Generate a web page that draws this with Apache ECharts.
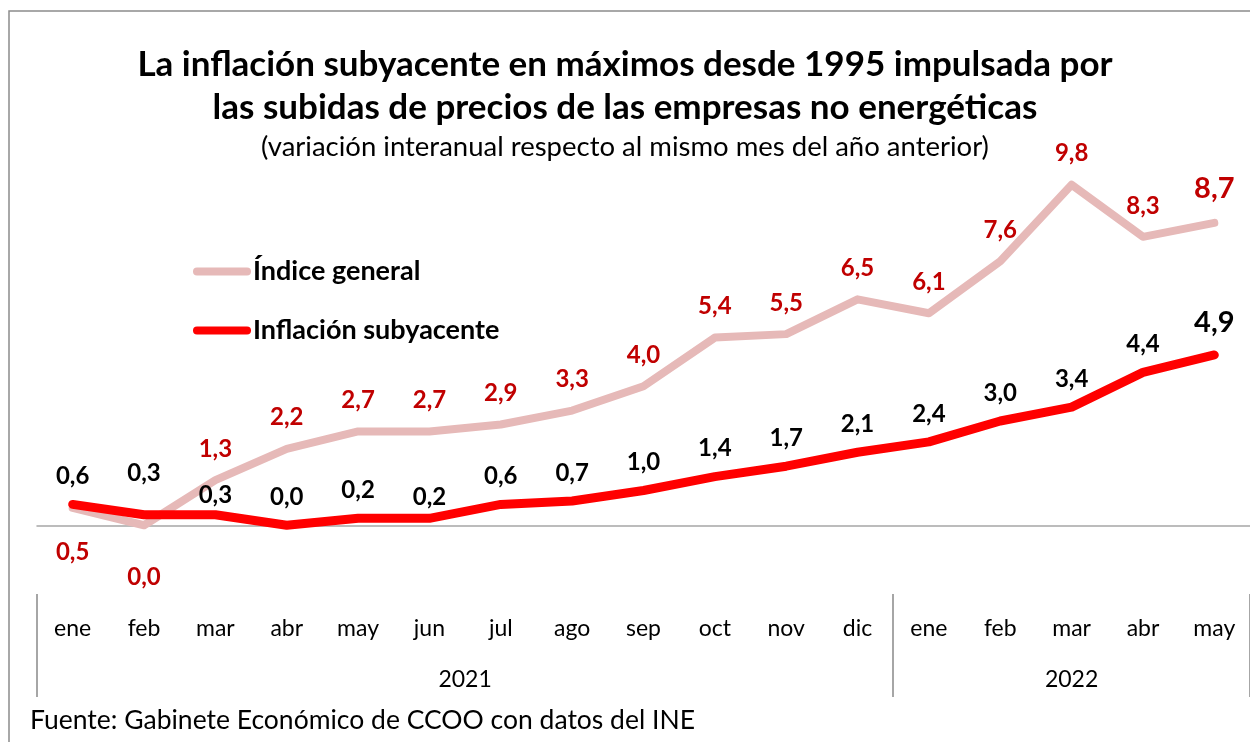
<!DOCTYPE html>
<html>
<head>
<meta charset="utf-8">
<script src="https://cdn.jsdelivr.net/npm/echarts@6/dist/echarts.min.js"></script>
<style>
  html, body { margin: 0; padding: 0; background: #fff; }
  #chart { width: 1250px; height: 742px; }
</style>
</head>
<body>
<div id="chart"></div>
<script>
const months = ["ene", "feb", "mar", "abr", "may", "jun", "jul", "ago", "sep", "oct", "nov", "dic", "ene", "feb", "mar", "abr", "may"];
const indiceGeneral = [0.5, 0.0, 1.3, 2.2, 2.7, 2.7, 2.9, 3.3, 4.0, 5.4, 5.5, 6.5, 6.1, 7.6, 9.8, 8.3, 8.7];
const subyacente = [0.6, 0.3, 0.3, 0.0, 0.2, 0.2, 0.6, 0.7, 1.0, 1.4, 1.7, 2.1, 2.4, 3.0, 3.4, 4.4, 4.9];
// years: label at the middle of each block, separators at block edges (in month units)
const years = ["2021", "2022"];
const yearCenters = [6, 14.5];
const yearEdges = [0, 12, 17];

const FONT = "Lato";
const fmt = (v) => v.toFixed(1).replace(".", ",");

// label tweaks per point (index -> label props)
const indiceLabelTweaks = {
  0: { position: "bottom", distance: 32 },
  1: { position: "bottom", distance: 40 },
  16: { fontSize: 29, distance: 20 }
};
const subLabelTweaks = {
  1: { distance: 30 },
  2: { distance: 8 },
  5: { distance: 9 },
  16: { fontSize: 29, distance: 18 }
};

function buildData(values, tweaks) {
  return values.map((v, i) => tweaks[i] ? { value: v, label: tweaks[i] } : v);
}

const chart = echarts.init(document.getElementById("chart"));

chart.setOption({
  animation: false,
  textStyle: { fontFamily: FONT },
  title: [
    {
      text: "La inflación subyacente en máximos desde 1995 impulsada por\nlas subidas de precios de las empresas no energéticas",
      subtext: "(variación interanual respecto al mismo mes del año anterior)",
      left: "center",
      top: 38,
      itemGap: 4,
      textStyle: { fontFamily: FONT, fontSize: 35, fontWeight: "bold", color: "#000", lineHeight: 43 },
      subtextStyle: { fontFamily: FONT, fontSize: 27.5, color: "#000" }
    },
    {
      text: "Fuente: Gabinete Económico de CCOO con datos del INE",
      left: 25,
      top: 702,
      textStyle: { fontFamily: FONT, fontSize: 26.5, fontWeight: "normal", color: "#000" }
    }
  ],
  legend: {
    orient: "vertical",
    left: 188,
    top: 253,
    itemGap: 32,
    itemWidth: 58,
    itemHeight: 8,
    icon: "path://M4,0 H54 A4,4 0 0 1 54,8 H4 A4,4 0 0 1 4,0 Z",
    textStyle: { fontFamily: FONT, fontSize: 27, fontWeight: "bold", color: "#000", padding: [0, 0, 0, -3] },
    data: ["Índice general", "Inflación subyacente"]
  },
  graphic: [
    {
      type: "rect",
      shape: { x: 9, y: 11, width: 1300, height: 800 },
      style: { fill: "none", stroke: "#8c8c8c", lineWidth: 1.5 },
      silent: true
    }
  ],
  grid: { left: 37, top: 143, width: 1216, height: 417 },
  xAxis: [
    {
      type: "category",
      data: months,
      boundaryGap: true,
      axisLine: { onZero: true, lineStyle: { color: "#a6a6a6", width: 1.5 } },
      axisTick: { show: false },
      axisLabel: { show: false }
    },
    {
      type: "category",
      data: months,
      position: "bottom",
      boundaryGap: true,
      axisLine: { show: false },
      axisTick: { show: false },
      axisLabel: { margin: 57, fontFamily: FONT, fontSize: 23, color: "#000", interval: 0 }
    },
    {
      type: "value",
      min: 0,
      max: 17,
      position: "bottom",
      offset: 34,
      axisLine: { show: false },
      splitLine: { show: false },
      axisTick: {
        show: true,
        customValues: yearEdges,
        length: 103,
        inside: false,
        lineStyle: { color: "#a6a6a6", width: 2 }
      },
      axisLabel: {
        customValues: yearCenters,
        margin: 74,
        fontFamily: FONT,
        fontSize: 23,
        color: "#000",
        formatter: (v) => years[yearCenters.indexOf(v)] || ""
      }
    }
  ],
  yAxis: {
    type: "value",
    min: -1,
    max: 11,
    show: false,
    splitLine: { show: false }
  },
  series: [
    {
      name: "Índice general",
      type: "line",
      xAxisIndex: 0,
      data: buildData(indiceGeneral, indiceLabelTweaks),
      color: "#e6b9b8",
      symbol: "circle",
      symbolSize: 0.1,
      lineStyle: { width: 8, color: "#e6b9b8", cap: "round", join: "round" },
      z: 2,
      label: {
        show: true,
        position: "top",
        distance: 19,
        fontFamily: FONT,
        fontSize: 24,
        fontWeight: "bold",
        color: "#c00000",
        formatter: (p) => fmt(p.value)
      }
    },
    {
      name: "Inflación subyacente",
      type: "line",
      xAxisIndex: 0,
      data: buildData(subyacente, subLabelTweaks),
      color: "#ff0000",
      symbol: "circle",
      symbolSize: 0.1,
      lineStyle: { width: 9, color: "#ff0000", cap: "round", join: "round" },
      z: 3,
      label: {
        show: true,
        position: "top",
        distance: 16,
        fontFamily: FONT,
        fontSize: 24,
        fontWeight: "bold",
        color: "#000",
        formatter: (p) => fmt(p.value)
      }
    }
  ]
});
</script>
</body>
</html>
